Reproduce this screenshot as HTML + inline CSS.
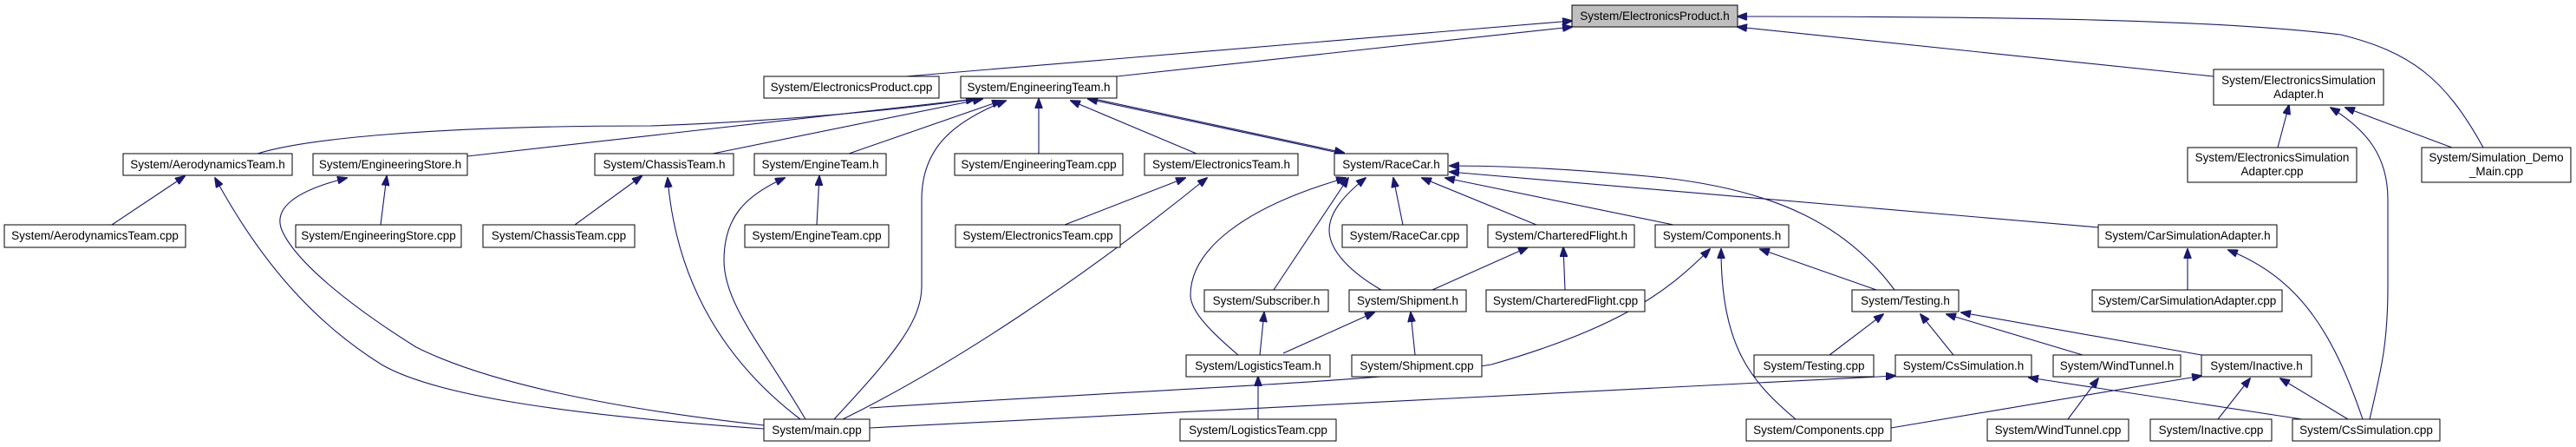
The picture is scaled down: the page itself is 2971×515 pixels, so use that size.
<!DOCTYPE html>
<html><head><meta charset="utf-8"><style>
html,body{margin:0;padding:0;background:#fff;}
svg{display:block;}
text{font-family:"Liberation Sans",sans-serif;font-size:13.5px;fill:#000;text-anchor:middle;}
rect{fill:#fff;stroke:#000;stroke-width:1;}
path{fill:none;stroke:#191970;stroke-width:1.1;}
</style></head><body>
<svg width="2971" height="515" viewBox="0 0 2971 515" xmlns="http://www.w3.org/2000/svg">
<defs><marker id="a" markerWidth="12" markerHeight="9" refX="11" refY="4.5" orient="auto" markerUnits="userSpaceOnUse"><polygon points="0,0 12,4.5 0,9" fill="#191970" stroke="#191970"/></marker></defs>
<g marker-end="url(#a)">
<path d="M1045,88 L1813,24"/>
<path d="M1288,88 L1813,31"/>
<path d="M2553,88 L2004,31"/>
<path d="M2864,170 C2820,90 2780,60 2700,40 C2550,22 2300,19 2004,19"/>
<path d="M297,177 C350,160 500,145 750,145 C900,140 1050,125 1125,114"/>
<path d="M539,180 L1125,114"/>
<path d="M822,177 L1133,114"/>
<path d="M979,177 L1155,116"/>
<path d="M1198,177 L1198,114"/>
<path d="M1380,177 L1235,116"/>
<path d="M1539,175 L1255,114"/>
<path d="M1262,114 L1550,176"/>
<path d="M962,483 C1030,410 1063,370 1063,330 L1063,230 C1063,170 1100,140 1160,116"/>
<path d="M2627,170 L2640,121"/>
<path d="M2733,483 C2745,430 2754,400 2754,330 L2754,230 C2754,180 2730,150 2688,124"/>
<path d="M2828,170 L2705,124"/>
<path d="M129,259 L213,203"/>
<path d="M881,494 C650,478 500,455 440,420 C360,370 300,300 248,205"/>
<path d="M439,259 L446,203"/>
<path d="M881,490 C700,470 560,440 480,400 C400,350 340,300 325,265 C315,240 340,220 400,205"/>
<path d="M663,259 L740,203"/>
<path d="M923,483 C840,420 780,330 770,205"/>
<path d="M942,259 L945,203"/>
<path d="M929,483 C880,400 835,350 835,300 C835,250 860,225 905,205"/>
<path d="M1228,259 L1367,205"/>
<path d="M972,483 C1100,420 1250,320 1392,205"/>
<path d="M1469,334 L1555,205"/>
<path d="M1428,409 C1400,385 1373,360 1373,340 C1373,290 1430,240 1552,205"/>
<path d="M1593,334 C1560,315 1533,290 1533,265 C1533,245 1550,225 1575,205"/>
<path d="M1618,259 L1607,205"/>
<path d="M1772,259 L1640,205"/>
<path d="M1930,259 L1667,205"/>
<path d="M2185,334 C2130,260 2050,220 1920,205 C1800,193 1720,191 1672,191"/>
<path d="M2420,262 L1672,198"/>
<path d="M1453,409 L1458,360"/>
<path d="M1480,407 L1585,360"/>
<path d="M1632,409 L1627,360"/>
<path d="M1652,334 L1762,285"/>
<path d="M1805,334 L1803,285"/>
<path d="M2164,334 L2030,287"/>
<path d="M1003,470 C1300,450 1600,440 1720,420 C1860,380 1920,340 1972,287"/>
<path d="M2071,483 C2020,440 1985,400 1985,287"/>
<path d="M2110,409 L2172,362"/>
<path d="M2253,409 L2215,362"/>
<path d="M2402,409 L2245,362"/>
<path d="M2539,409 L2262,360"/>
<path d="M1451,483 L1451,434"/>
<path d="M1003,493 L2186,433"/>
<path d="M2655,483 L2340,435"/>
<path d="M2181,493 L2539,433"/>
<path d="M2558,483 L2595,436"/>
<path d="M2708,483 L2630,436"/>
<path d="M2385,483 L2420,436"/>
<path d="M2523,334 L2523,287"/>
<path d="M2725,483 C2690,380 2650,320 2570,288"/>
</g>
<g>
<rect x="1813" y="6" width="191" height="25" style="fill:#bfbfbf"/><text x="1908.5" y="23">System/ElectronicsProduct.h</text>
<rect x="881" y="88" width="202" height="25"/><text x="982" y="105">System/ElectronicsProduct.cpp</text>
<rect x="1108" y="88" width="180" height="25"/><text x="1198" y="105">System/EngineeringTeam.h</text>
<rect x="2553" y="80" width="196" height="41"/><text x="2651" y="97">System/ElectronicsSimulation</text><text x="2651" y="113">Adapter.h</text>
<rect x="142" y="177" width="195" height="25"/><text x="239.5" y="194">System/AerodynamicsTeam.h</text>
<rect x="361" y="177" width="178" height="25"/><text x="450" y="194">System/EngineeringStore.h</text>
<rect x="686" y="177" width="160" height="25"/><text x="766" y="194">System/ChassisTeam.h</text>
<rect x="870" y="177" width="152" height="25"/><text x="946" y="194">System/EngineTeam.h</text>
<rect x="1101" y="177" width="194" height="25"/><text x="1198" y="194">System/EngineeringTeam.cpp</text>
<rect x="1320" y="177" width="177" height="25"/><text x="1408.5" y="194">System/ElectronicsTeam.h</text>
<rect x="1539" y="177" width="131" height="25"/><text x="1604.5" y="194">System/RaceCar.h</text>
<rect x="2523" y="170" width="195" height="40"/><text x="2620.5" y="186">System/ElectronicsSimulation</text><text x="2620.5" y="202">Adapter.cpp</text>
<rect x="2793" y="170" width="172" height="40"/><text x="2879" y="186">System/Simulation_Demo</text><text x="2879" y="202">_Main.cpp</text>
<rect x="5" y="259" width="209" height="26"/><text x="109.5" y="276">System/AerodynamicsTeam.cpp</text>
<rect x="341" y="259" width="191" height="26"/><text x="436.5" y="276">System/EngineeringStore.cpp</text>
<rect x="557" y="259" width="175" height="26"/><text x="644.5" y="276">System/ChassisTeam.cpp</text>
<rect x="859" y="259" width="166" height="26"/><text x="942" y="276">System/EngineTeam.cpp</text>
<rect x="1102" y="259" width="190" height="26"/><text x="1197" y="276">System/ElectronicsTeam.cpp</text>
<rect x="1548" y="259" width="144" height="26"/><text x="1620" y="276">System/RaceCar.cpp</text>
<rect x="1716" y="259" width="169" height="26"/><text x="1800.5" y="276">System/CharteredFlight.h</text>
<rect x="1909" y="259" width="154" height="26"/><text x="1986" y="276">System/Components.h</text>
<rect x="2420" y="259" width="206" height="26"/><text x="2523" y="276">System/CarSimulationAdapter.h</text>
<rect x="1389" y="334" width="143" height="25"/><text x="1460.5" y="351">System/Subscriber.h</text>
<rect x="1556" y="334" width="135" height="25"/><text x="1623.5" y="351">System/Shipment.h</text>
<rect x="1714" y="334" width="183" height="25"/><text x="1805.5" y="351">System/CharteredFlight.cpp</text>
<rect x="2136" y="334" width="123" height="25"/><text x="2197.5" y="351">System/Testing.h</text>
<rect x="2413" y="334" width="219" height="25"/><text x="2522.5" y="351">System/CarSimulationAdapter.cpp</text>
<rect x="1368" y="409" width="166" height="25"/><text x="1451" y="426">System/LogisticsTeam.h</text>
<rect x="1559" y="409" width="150" height="25"/><text x="1634" y="426">System/Shipment.cpp</text>
<rect x="2023" y="409" width="138" height="25"/><text x="2092" y="426">System/Testing.cpp</text>
<rect x="2186" y="409" width="157" height="25"/><text x="2264.5" y="426">System/CsSimulation.h</text>
<rect x="2368" y="409" width="147" height="25"/><text x="2441.5" y="426">System/WindTunnel.h</text>
<rect x="2539" y="409" width="127" height="25"/><text x="2602.5" y="426">System/Inactive.h</text>
<rect x="881" y="483" width="122" height="25"/><text x="942" y="500">System/main.cpp</text>
<rect x="1361" y="483" width="180" height="25"/><text x="1451" y="500">System/LogisticsTeam.cpp</text>
<rect x="2014" y="483" width="167" height="25"/><text x="2097.5" y="500">System/Components.cpp</text>
<rect x="2292" y="483" width="163" height="25"/><text x="2373.5" y="500">System/WindTunnel.cpp</text>
<rect x="2480" y="483" width="140" height="25"/><text x="2550" y="500">System/Inactive.cpp</text>
<rect x="2644" y="483" width="170" height="25"/><text x="2729" y="500">System/CsSimulation.cpp</text>
</g>
</svg>
</body></html>
